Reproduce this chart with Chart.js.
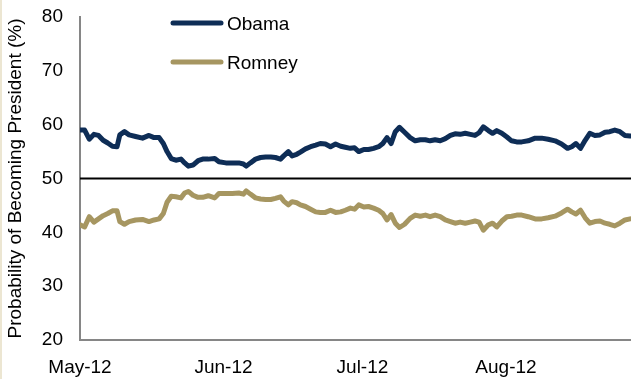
<!DOCTYPE html>
<html>
<head>
<meta charset="utf-8">
<script src="https://cdn.jsdelivr.net/npm/chart.js@4"></script>
<style>
  html, body { margin: 0; padding: 0; background: #fff; }
  #wrap { position: relative; width: 631px; height: 379px; }
  #wrap::before { content: ''; position: absolute; left: 0; top: 0; width: 2px; height: 100%; background: #ece6d2; }
</style>
</head>
<body>
<div id="wrap"><canvas id="oddsChart" width="631" height="379"></canvas></div>
<script>
// days counted from 1 May 2012
const days = [0,1,2,3,4,5,6,7,8,8.6,9.6,10.6,12,13.5,14.9,16,17.1,18,18.8,19.7,20.7,21.8,22.6,23.4,24.4,25.5,26.5,27.7,29.1,30,
  31.5,32.9,34.3,35.3,35.9,36.8,37.9,39,40.1,41.2,42.2,43.3,44,45,45.8,46.8,47.6,48.7,49.8,50.9,51.9,53,54.1,55.2,56.3,57.3,58.4,59.3,60.2,61.3,
  62.3,63.4,64.5,65.4,66.3,67.2,68.1,69,70.1,71.3,72.4,73.5,74.6,75.6,76.7,77.8,78.9,80,81,82.1,83.2,84.3,85.3,86.2,87.1,88.2,89.1,90,91.1,92.2,
  93.2,94.3,95.4,96.8,98.3,99.7,101.1,102.6,104,105.3,106.2,107.1,108.1,109.1,110.1,111.2,112.3,113.4,114.4,115.5,116.6,117.7,118.8];

const obama = [59.0,59.0,57.3,58.2,58.0,57.1,56.6,56.0,55.9,58.1,
  58.7,58.1,57.8,57.5,58.0,57.6,57.6,56.5,55.0,53.7,
  53.4,53.6,52.9,52.3,52.5,53.3,53.6,53.6,53.7,53.1,
  52.9,52.9,52.9,52.7,52.3,52.9,53.6,53.9,54.0,54.0,
  53.9,53.6,54.2,55.0,54.2,54.5,54.9,55.5,55.9,56.2,
  56.5,56.4,55.9,56.4,56.0,55.8,55.6,55.7,55.0,55.4,
  55.4,55.6,55.9,56.5,57.6,56.5,58.7,59.5,58.6,57.6,
  57.0,57.2,57.2,57.0,57.2,57.0,57.4,58.0,58.3,58.2,
  58.4,58.2,58.0,58.5,59.6,58.9,58.4,58.9,58.4,57.7,
  57.0,56.8,56.8,57.0,57.5,57.5,57.3,57.0,56.4,55.6,
  55.9,56.5,55.6,57.1,58.4,58.0,58.1,58.6,58.7,59.0,
  58.7,58.0,57.9];

const romney = [41.4,41.0,42.9,41.9,42.5,43.1,43.5,44.0,44.0,42.0,
  41.5,42.0,42.3,42.4,42.0,42.3,42.5,43.5,45.6,46.7,
  46.6,46.4,47.3,47.6,46.9,46.5,46.5,46.8,46.4,47.2,
  47.2,47.2,47.3,47.1,47.7,47.1,46.4,46.2,46.1,46.1,
  46.3,46.6,45.8,45.1,45.7,45.5,45.1,44.8,44.3,43.8,
  43.7,43.7,44.1,43.7,43.8,44.1,44.5,44.3,45.1,44.7,
  44.8,44.5,44.1,43.5,42.3,43.3,41.7,40.9,41.5,42.6,
  43.2,43.0,43.2,42.9,43.2,42.9,42.3,42.0,41.7,41.9,
  41.7,41.9,42.1,41.9,40.4,41.4,41.7,41.0,42.1,42.9,
  43.0,43.2,43.2,42.9,42.5,42.5,42.7,43.0,43.6,44.3,
  43.8,43.4,44.1,42.7,41.7,42.0,42.1,41.7,41.5,41.2,
  41.7,42.3,42.5];

// month starts as day offsets, with their labels
const monthDays = [0, 31, 61, 92];
const monthLabels = ['May-12', 'Jun-12', 'Jul-12', 'Aug-12'];
const evenOdds = 50;

const FONT = '"Liberation Sans", Arial, sans-serif';
const toPoints = vals => vals.map((v, i) => ({ x: days[i], y: v }));

// black line across the plot at 50%
const evenLine = {
  id: 'evenLine',
  beforeDatasetsDraw(chart) {
    const { ctx, chartArea, scales } = chart;
    const y = scales.y.getPixelForValue(evenOdds);
    ctx.save();
    ctx.strokeStyle = '#000';
    ctx.lineWidth = 2;
    ctx.beginPath();
    ctx.moveTo(chartArea.left, y);
    ctx.lineTo(chartArea.right, y);
    ctx.stroke();
    ctx.restore();
  }
};

// legend inside the plot, top left
const insideLegend = {
  id: 'insideLegend',
  afterDraw(chart) {
    const ctx = chart.ctx;
    ctx.save();
    ctx.font = '19px ' + FONT;
    ctx.textBaseline = 'middle';
    ctx.textAlign = 'left';
    chart.data.datasets.forEach((ds, i) => {
      const y = 23 + i * 39;
      ctx.strokeStyle = ds.borderColor;
      ctx.lineWidth = 5;
      ctx.lineCap = 'round';
      ctx.beginPath();
      ctx.moveTo(173, y);
      ctx.lineTo(221, y);
      ctx.stroke();
      ctx.fillStyle = '#000';
      ctx.fillText(ds.label, 227, y + 2);
    });
    ctx.restore();
  }
};

const ctx = document.getElementById('oddsChart').getContext('2d');
const oddsChart = new Chart(ctx, {
  type: 'line',
  data: {
    datasets: [{
      label: 'Obama',
      data: toPoints(obama),
      borderColor: '#0e2d56',
      borderWidth: 5,
      pointRadius: 0,
      tension: 0,
      borderJoinStyle: 'round',
      borderCapStyle: 'round'
    }, {
      label: 'Romney',
      data: toPoints(romney),
      borderColor: '#a69661',
      borderWidth: 5,
      pointRadius: 0,
      tension: 0,
      borderJoinStyle: 'round',
      borderCapStyle: 'round'
    }]
  },
  options: {
    responsive: false,
    animation: false,
    devicePixelRatio: 1,
    layout: { padding: { top: 17, right: 0, left: 0, bottom: 0 } },
    plugins: {
      legend: { display: false },
      tooltip: { enabled: false }
    },
    scales: {
      x: {
        type: 'linear',
        min: 0,
        max: 119,
        grid: { display: false, drawTicks: false },
        border: { display: true, color: '#868686', width: 2 },
        afterBuildTicks: scale => { scale.ticks = monthDays.map(v => ({ value: v })); },
        afterFit: scale => { scale.height = 39; },
        ticks: {
          autoSkip: false,
          maxRotation: 0,
          padding: 16,
          color: '#000',
          font: { family: FONT, size: 19 },
          callback: (value, index) => monthLabels[index]
        }
      },
      y: {
        min: 20,
        max: 80,
        grid: { display: false, drawTicks: false },
        border: { display: true, color: '#868686', width: 2 },
        afterFit: scale => {
          scale.width = 80;
          // the tick padding is horizontal here, don't let it push the plot down
          scale.paddingTop = 0;
          scale.paddingBottom = 0;
        },
        ticks: {
          stepSize: 10,
          padding: 17,
          color: '#000',
          font: { family: FONT, size: 19 }
        },
        title: {
          display: true,
          text: 'Probability of Becoming President (%)',
          color: '#000',
          font: { family: FONT, size: 19 },
          padding: { top: 4, bottom: 0 }
        }
      }
    }
  },
  plugins: [evenLine, insideLegend]
});
</script>
</body>
</html>
